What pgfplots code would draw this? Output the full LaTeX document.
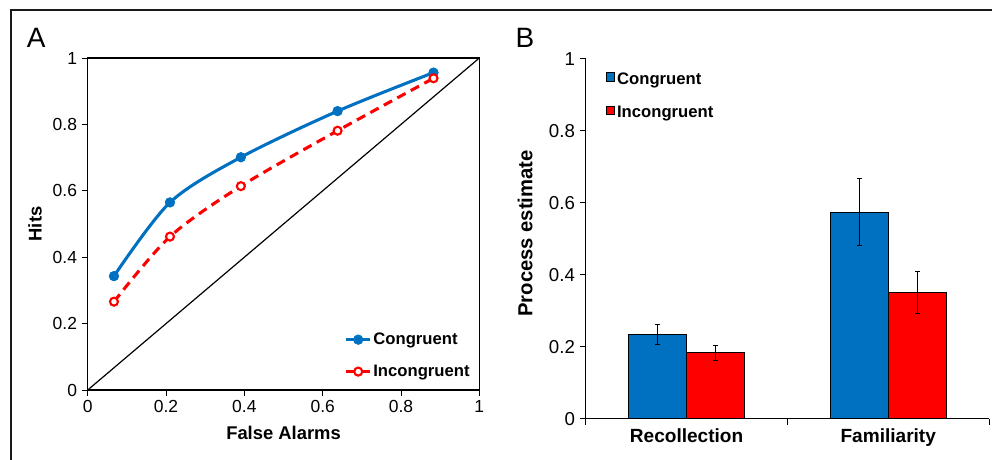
\documentclass[border=0pt]{standalone}
\usepackage{pgfplots}
\pgfplotsset{compat=1.18}
\usepackage{fontspec}
\setmainfont{Liberation Sans}
\definecolor{cblue}{RGB}{0,112,192}
\definecolor{cred}{RGB}{255,0,0}
\begin{document}
\begin{tikzpicture}
\useasboundingbox (0pt,0pt) rectangle (744pt,345pt);
\draw[line width=1.5pt, black!90] (8.25pt,-2pt) -- (8.25pt,337.5pt) -- (746pt,337.5pt);
\node[anchor=base west, inner sep=0pt, font=\fontsize{21}{24}\selectfont] at (20pt,309pt) {A};
\node[anchor=base west, inner sep=0pt, font=\fontsize{21}{24}\selectfont] at (386.5pt,309pt) {B};

\begin{axis}[
  at={(65.8pt,52.5pt)}, anchor=south west, scale only axis,
  width=293.7pt, height=249pt,
  xmin=0, xmax=1, ymin=0, ymax=1,
  xtick={0,0.2,0.4,0.6,0.8,1}, ytick={0,0.2,0.4,0.6,0.8,1},
  xtick pos=bottom, ytick pos=left, tick align=outside,
  major tick length=4.5pt,
  tick style={black, line width=0.6pt},
  axis line style={line width=1pt},
  ticklabel style={font=\fontsize{13.1}{15}\selectfont},
  /pgf/number format/assume math mode=true,
  xlabel={False Alarms}, ylabel={Hits},
  label style={font=\bfseries\fontsize{13.8}{16}\selectfont},
  xlabel style={at={(axis description cs:0.5,-0.1295)}, anchor=center},
  ylabel style={at={(axis description cs:-0.1346,0.5)}, anchor=center},
  legend style={draw=none, fill=none, at={(axis description cs:0.6555,0.181)},
    anchor=north west, inner sep=0pt, row sep=9.8pt,
    font=\bfseries\fontsize{12.5}{15}\selectfont,
    nodes={inner xsep=1.2pt, inner ysep=2pt}},
  legend cell align=left,
  legend image code/.code={\draw[mark repeat=2,mark phase=2,#1] plot coordinates {(0pt,0pt)(9pt,0pt)(18pt,0pt)};},
]
\addplot[forget plot, black, line width=0.9pt] coordinates {(0,0)(1,1)};
\addplot[forget plot, cblue, line width=2.3pt, smooth, mark=*, mark size=3.6pt,
  mark options={solid, fill=cblue, line width=0.5pt}]
  coordinates {(0.067,0.343)(0.210,0.565)(0.391,0.701)(0.638,0.840)(0.883,0.956)};
\addplot[forget plot, cred, line width=2.3pt, dash pattern=on 7pt off 4.5pt, smooth, mark=*, mark size=3pt,
  mark options={solid, fill=white, draw=cred, line width=1.6pt}]
  coordinates {(0.067,0.266)(0.210,0.462)(0.391,0.614)(0.638,0.781)(0.883,0.939)};
\addlegendimage{cblue, line width=2.3pt, mark=*, mark size=3.6pt, mark options={fill=cblue, line width=0.5pt}}
\addlegendentry{Congruent}
\addlegendimage{cred, line width=2.3pt, mark=*, mark size=3pt, mark options={fill=white, draw=cred, line width=1.6pt}}
\addlegendentry{Incongruent}
\end{axis}

\begin{axis}[
  at={(439.3pt,30.98pt)}, anchor=south west, scale only axis,
  width=302.5pt, height=270pt,
  xmin=-0.5, xmax=1.5, ymin=0, ymax=1,
  axis x line*=bottom, axis y line*=left,
  axis line style={-, line width=1pt},
  xtick={0,1}, xticklabels={Recollection,Familiarity},
  minor xtick={-0.5,0.5,1.5},
  ytick={0,0.2,0.4,0.6,0.8,1}, minor ytick={0,0.2,0.4,0.6,0.8,1},
  major tick length=0pt, minor tick length=4.5pt, tick align=outside,
  tick style={black, line width=0.6pt},
  /pgf/number format/assume math mode=true,
  yticklabel style={font=\fontsize{14}{16}\selectfont, xshift=-4.6pt},
  xticklabel style={font=\bfseries\fontsize{14.3}{16}\selectfont, yshift=-3.7pt},
  ylabel={Process estimate},
  ylabel style={font=\bfseries\fontsize{15.2}{17}\selectfont, at={(axis description cs:-0.1505,0.5147)}, anchor=center},
  ybar=0pt, bar width=43.5pt,
  error bars/y dir=both, error bars/y explicit,
  error bars/error bar style={black, line width=0.8pt},
  error bars/error mark options={rotate=90, black, mark size=1.8pt, line width=0.8pt},
  legend style={draw=none, fill=none, at={(axis description cs:0.049,0.970)},
    anchor=north west, inner sep=0pt, row sep=11pt,
    font=\bfseries\fontsize{12.5}{15}\selectfont,
    nodes={inner xsep=1.5pt, inner ysep=2pt}},
  legend cell align=left,
  legend image code/.code={\draw[#1, line width=0.7pt] (0pt,-1.4pt) rectangle (6.3pt,4.9pt);},
]
\addplot[fill=cblue, draw=black, line width=0.8pt]
  coordinates {(0,0.234) +- (0,0.027) (1,0.574) +- (0,0.092)};
\addlegendentry{Congruent}
\addplot[fill=cred, draw=black, line width=0.8pt]
  coordinates {(0,0.183) +- (0,0.021) (1,0.351) +- (0,0.059)};
\addlegendentry{Incongruent}
\end{axis}
\end{tikzpicture}
\end{document}
